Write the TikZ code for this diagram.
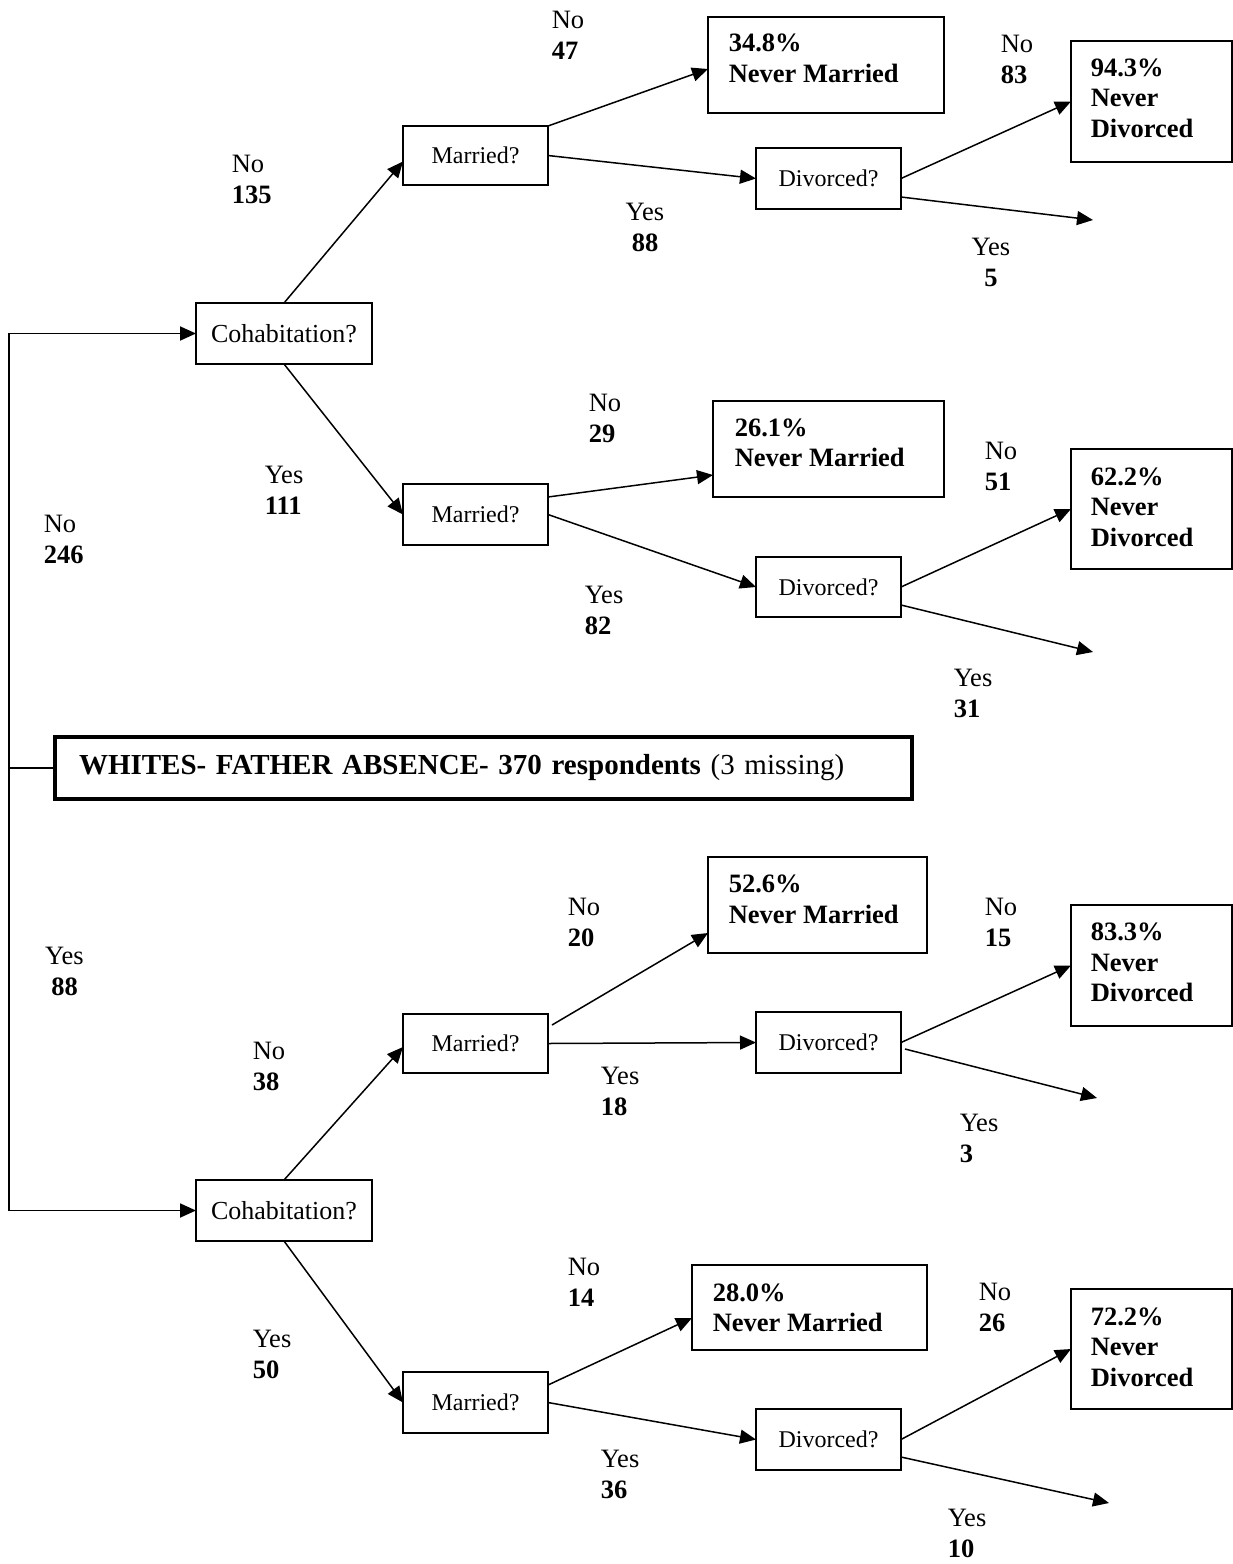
\documentclass[tikz,border=0pt]{standalone}
\usepackage{fontspec}
\setmainfont{Liberation Serif}
\usetikzlibrary{arrows.meta,calc}
\begin{document}
\begin{tikzpicture}[x=1pt,y=-1pt,line width=1.5pt,
  arr/.style={-{Triangle[length=16pt,width=14pt]}},
  qbox/.style={draw, rectangle, anchor=north west, inner sep=0pt, outer sep=0pt, minimum width=145pt, minimum height=60pt, font=\fontsize{24}{28}\selectfont},
  cbox/.style={qbox, minimum width=176pt, minimum height=61pt, font=\fontsize{26}{30}\selectfont},
  rbox/.style={draw, rectangle, anchor=north west, inner sep=0pt, outer sep=0pt},
  rtext/.style={anchor=west, align=left, inner sep=0pt, font=\fontsize{26.5}{30.5}\selectfont\bfseries},
  lab/.style={anchor=west, align=left, inner sep=0pt, font=\fontsize{26.5}{31}\selectfont},
  labc/.style={anchor=center, align=center, inner sep=0pt, font=\fontsize{26.5}{31}\selectfont},
]
\fill[white] (0,0) rectangle (1233,1564);
\useasboundingbox (0,0) rectangle (1233,1564);

% title and spine
\node[draw, line width=3.3pt, outer sep=0pt, anchor=north west, minimum height=62pt, inner xsep=24pt, inner ysep=0pt, text width=809pt, align=left, font=\fontsize{29}{33}\selectfont] (T) at (55,737) {\textbf{WHITES- FATHER ABSENCE- 370 respondents} (3 missing)};
\coordinate (sp) at ($(T.west)+(-46,0)$);

% decision boxes
\node[cbox] (c1) at (196,303) {Cohabitation?};
\node[cbox] (c2) at (196,1180) {Cohabitation?};
\node[qbox, minimum height=59pt] (m1) at (403,126) {Married?};
\node[qbox, minimum height=61pt] (m2) at (403,484) {Married?};
\node[qbox, minimum height=59pt] (m3) at (403,1014) {Married?};
\node[qbox, minimum height=61pt] (m4) at (403,1372) {Married?};
\node[qbox, minimum height=61pt] (d1) at (756,148) {Divorced?};
\node[qbox, minimum height=60pt] (d2) at (756,557) {Divorced?};
\node[qbox, minimum height=61pt] (d3) at (756,1012) {Divorced?};
\node[qbox, minimum height=61pt] (d4) at (756,1409) {Divorced?};

% result boxes
\node[rbox, minimum width=236pt, minimum height=96pt] (r1) at (708,17) {};
\node[rtext] (r1t) at (728,58.5) {34.8\%\\Never Married};
\node[rbox, minimum width=161pt, minimum height=121pt] (r2) at (1071,41) {};
\node[rtext] (r2t) at (1090,98) {94.3\%\\Never\\Divorced};
\node[rbox, minimum width=231pt, minimum height=96pt] (r3) at (713,401) {};
\node[rtext] (r3t) at (734,443) {26.1\%\\Never Married};
\node[rbox, minimum width=161pt, minimum height=120pt] (r4) at (1071,449) {};
\node[rtext] (r4t) at (1090,507) {62.2\%\\Never\\Divorced};
\node[rbox, minimum width=219pt, minimum height=96pt] (r5) at (708,857) {};
\node[rtext] (r5t) at (728,899.5) {52.6\%\\Never Married};
\node[rbox, minimum width=161pt, minimum height=121pt] (r6) at (1071,905) {};
\node[rtext] (r6t) at (1090,962.5) {83.3\%\\Never\\Divorced};
\node[rbox, minimum width=235pt, minimum height=85pt] (r7) at (692,1265) {};
\node[rtext] (r7t) at (712,1308) {28.0\%\\Never Married};
\node[rbox, minimum width=161pt, minimum height=120pt] (r8) at (1071,1289) {};
\node[rtext] (r8t) at (1090,1347) {72.2\%\\Never\\Divorced};

% free ends
\coordinate (e1) at (1093,220);
\coordinate (e2) at (1093,652);
\coordinate (e3) at (1097,1098);
\coordinate (e4) at (1109,1503);

% spine connectors
\draw[arr, line width=1.8pt] (sp) |- (c1.west);
\draw[arr, line width=1.8pt] (sp) |- (c2.west);
\draw[line width=1.8pt] (sp) -- (T.west);

% upper tree
\draw[arr] (c1.north) -- ($(m1.west)+(0,6)$);
\draw[arr] (c1.south) -- (m2.west);
\draw[arr] (m1.north east) -- ($(r1.west)+(0,4)$);
\draw[arr] (m1.east) -- (d1.west);
\draw[arr] (d1.east) -- (r2.west);
\draw[arr] ($(d1.east)+(0,18.5)$) -- (e1);
\draw[arr] ($(m2.east)+(0,-17.5)$) -- ($(r3.west)+(0,26)$);
\draw[arr] (m2.east) -- (d2.west);
\draw[arr] (d2.east) -- (r4.west);
\draw[arr] ($(d2.east)+(0,18)$) -- (e2);

% lower tree
\draw[arr] (c2.north) -- ($(m3.west)+(0,3.5)$);
\draw[arr] (c2.south) -- (m4.west);
\draw[arr] ($(m3.east)+(4,-18.5)$) -- ($(r5.west)+(0,28)$);
\draw[arr] (m3.east) -- (d3.west);
\draw[arr] (d3.east) -- (r6.west);
\draw[arr] ($(d3.east)+(4,6.5)$) -- (e3);
\draw[arr] ($(m4.east)+(0,-17.5)$) -- ($(r7.west)+(0,10.5)$);
\draw[arr] (m4.east) -- (d4.west);
\draw[arr] (d4.east) -- (r8.west);
\draw[arr] ($(d4.east)+(0,17.5)$) -- (e4);

% labels
\node[lab] (l47) at (551,35) {No\\\textbf{47}};
\node[lab] (l135) at (231,179) {No\\\textbf{135}};
\node[labc] (l88a) at (645,227) {Yes\\\textbf{88}};
\node[lab] (l83) at (1000,59) {No\\\textbf{83}};
\node[labc] (l5) at (991,262.5) {Yes\\\textbf{5}};
\node[lab] (l111) at (264,490.5) {Yes\\\textbf{111}};
\node[lab] (l29) at (588,418.5) {No\\\textbf{29}};
\node[lab] (l246) at (43,539) {No\\\textbf{246}};
\node[lab] (l82) at (584,610.5) {Yes\\\textbf{82}};
\node[lab] (l51) at (984,466) {No\\\textbf{51}};
\node[lab] (l31) at (953,693.5) {Yes\\\textbf{31}};
\node[labc] (l88b) at (64.5,971) {Yes\\\textbf{88}};
\node[lab] (l38) at (252,1066.5) {No\\\textbf{38}};
\node[lab] (l20) at (567,922.5) {No\\\textbf{20}};
\node[lab] (l18) at (600,1091) {Yes\\\textbf{18}};
\node[lab] (l15) at (984,922.5) {No\\\textbf{15}};
\node[lab] (l3) at (959,1138.5) {Yes\\\textbf{3}};
\node[lab] (l50) at (252,1354.5) {Yes\\\textbf{50}};
\node[lab] (l14) at (567,1282.5) {No\\\textbf{14}};
\node[lab] (l36) at (600,1474) {Yes\\\textbf{36}};
\node[lab] (l26) at (978,1307.5) {No\\\textbf{26}};
\node[lab] (l10) at (947,1533) {Yes\\\textbf{10}};
\end{tikzpicture}
\end{document}
